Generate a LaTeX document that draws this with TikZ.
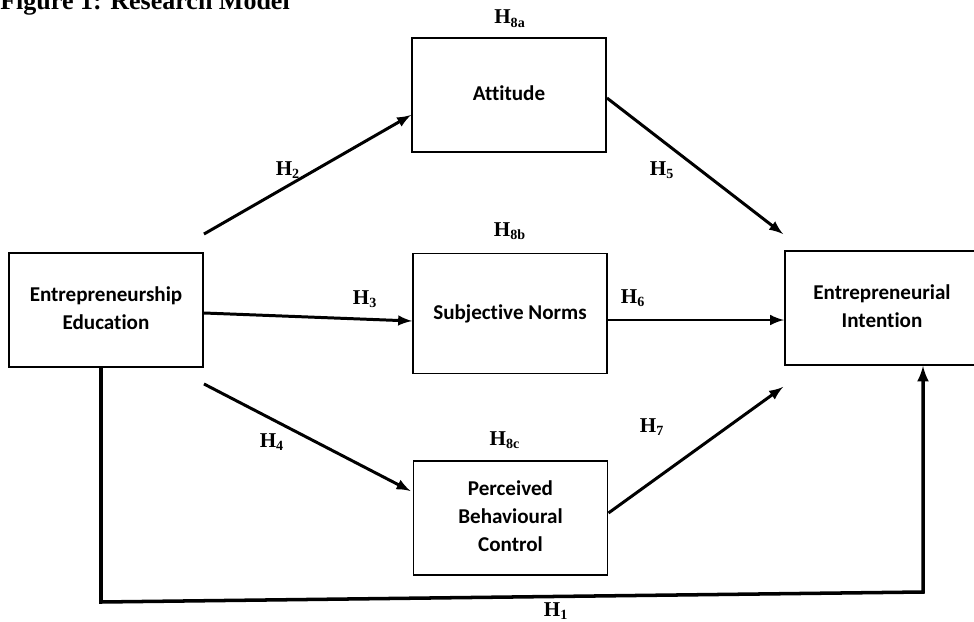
\documentclass[tikz,border=0pt]{standalone}
\usepackage{fontspec}
\setmainfont{Liberation Serif}
\newfontfamily\boxfont[Ligatures=CommonOff]{Carlito}
\usepackage{tikz}
\usetikzlibrary{arrows, positioning, calc}

\newcommand{\hyplab}[1]{H\textsubscript{#1}}
\newcommand{\cname}[1]{\raisebox{0.14cm}{\begin{tabular}{@{}c@{}}#1\end{tabular}}}

\begin{document}
\begin{tikzpicture}[
    construct/.style={draw, line width=1.1pt, inner sep=0pt, minimum width=3.88cm,
        minimum height=2.28cm, font=\boxfont\bfseries\fontsize{12}{16}\selectfont},
    hyp/.style={-latex, line width=1.7pt},
    hlabel/.style={anchor=base, inner sep=0pt, font=\bfseries\fontsize{12}{14}\selectfont}
]
    \useasboundingbox (0,0) rectangle (19.48,-12.44);

    % Title
    \node[anchor=base west, inner sep=0pt, font=\bfseries\fontsize{14.8}{18}\selectfont] (title) at (0,-0.2) {Figure 1: Research Model};

    % Constructs
    \node[construct] (ee) at (2.12,-6.2) {\cname{Entrepreneurship\\Education}};
    \node[construct] (att) at (10.18,-1.9) {\cname{Attitude}};
    \node[construct, minimum height=2.4cm] (sn) at (10.2,-6.27) {\cname{Subjective Norms}};
    \node[construct] (pbc) at (10.21,-10.36) {\cname{Perceived\\Behavioural\\Control}};
    \node[construct] (ei) at (17.64,-6.16) {\cname{Entrepreneurial\\Intention}};

    % Paths
    \draw[hyp] ($(ee.north east)+(0,0.36)$) -- ($(att.west)+(0,-0.4)$);
    \draw[hyp] ($(ee.east)+(0,-0.06)$) -- ($(sn.west)+(0,-0.15)$);
    \draw[hyp] ($(ee.south east)+(0,-0.32)$) -- ($(pbc.west)+(-0.04,0.54)$);
    \draw[hyp] ($(att.east)+(0,-0.06)$) -- ($(ei.north west)+(-0.02,0.32)$);
    \draw[hyp] ($(sn.east)+(0,-0.13)$) -- ($(ei.west)+(0,-0.24)$);
    \draw[hyp] ($(pbc.east)+(0,0.1)$) -- ($(ei.south west)+(-0.02,-0.42)$);

    % Direct path
    \coordinate (h1left) at (2.02,-12.04);
    \coordinate (h1right) at (18.46,-11.84);
    \draw[-latex, line width=2pt] ($(ee.south)+(-0.1,0)$) -- (h1left) -- (h1right) -- ($(ei.south)+(0.82,0)$);

    % Hypotheses
    \node[hlabel] (h8a) at (10.2,-0.48) {\hyplab{8a}};
    \node[hlabel] (h2) at (5.76,-3.5) {\hyplab{2}};
    \node[hlabel] (h5) at (13.24,-3.5) {\hyplab{5}};
    \node[hlabel] (h8b) at (10.2,-4.72) {\hyplab{8b}};
    \node[hlabel] (h3) at (7.3,-6.08) {\hyplab{3}};
    \node[hlabel] (h6) at (12.66,-6.06) {\hyplab{6}};
    \node[hlabel] (h4) at (5.44,-8.94) {\hyplab{4}};
    \node[hlabel] (h8c) at (10.1,-8.9) {\hyplab{8c}};
    \node[hlabel] (h7) at (13.04,-8.64) {\hyplab{7}};
    \node[hlabel] (h1) at (11.12,-12.32) {\hyplab{1}};
\end{tikzpicture}
\end{document}
